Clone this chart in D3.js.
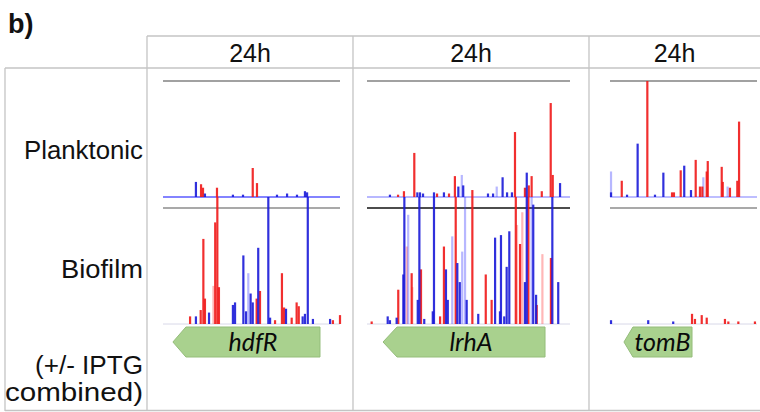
<!DOCTYPE html>
<html><head><meta charset="utf-8">
<script src="https://cdn.jsdelivr.net/npm/d3@7"></script>
<style>html,body{margin:0;padding:0;background:#fff;}svg{display:block;}</style>
</head><body>
<svg id="c" width="760" height="412"></svg>
<script>
// ---------- DATA ----------
const panelLabel = "b)";
const genes = ["hdfR", "lrhA", "tomB"];
const timeLabels = ["24h", "24h", "24h"];
const rowLabels = ["Planktonic", "Biofilm"];
const footLabel = ["(+/- IPTG", "combined)"];
// gene extents in track coordinates (0-100), arrow points left (reverse strand)
const geneStart = [5.6, 7.9, 9.5];
const geneEnd = [88.7, 87.7, 55.8];

// [position (0-100 along track), read depth (% of track max)]
const hdfR_plank_red = [[21.5,11],[22.6,8],[30.5,8],[50.7,25],[53.1,12]];
const hdfR_plank_blue = [[18.6,13],[23.7,3],[39.5,2],[45.2,2],[64.4,2],[70.1,3],[75.7,2],[80.2,5],[81.4,4]];
const hdfR_plank_redLight = [];
const hdfR_plank_blueLight = [];
const hdfR_bio_red = [[15.3,6],[21.3,11],[22.8,67],[23.7,20],[29.5,80],[30.7,100],[31.6,29],[52.9,20],[54.8,26],[63.3,3],[67.2,40],[68.4,13],[72.7,5],[75.5,17],[76.7,14],[96,3],[100,7]];
const hdfR_bio_blue = [[18.6,6],[26,9],[39.5,15],[40.7,17],[45.4,54],[46.9,10],[49.5,24],[50.7,17],[53.8,60],[59.5,100],[60.5,5],[69.5,12],[78.9,6],[80.2,8],[81.8,100],[84.7,4],[94.4,4]];
const hdfR_bio_redLight = [[28.5,30]];
const hdfR_bio_blueLight = [[48.2,40]];

const lrhA_plank_red = [[15.3,2],[18.2,5],[23.3,38],[34.5,3],[40.4,3],[43.3,18],[51.9,6],[72.9,56],[77.8,8],[79.7,10],[81.1,18],[86.1,5],[90.5,81],[91.5,19]];
const lrhA_plank_blue = [[11.3,2],[24.8,4],[26.1,4],[27.6,3],[33,4],[37.9,4],[45,9],[47.4,10],[59.6,3],[62.1,3],[66.8,17],[69,4],[71.4,4],[78.7,21],[95.1,12]];
const lrhA_plank_redLight = [];
const lrhA_plank_blueLight = [[46.7,19],[63.9,9]];
const lrhA_bio_red = [[2.3,2],[15.4,27],[22,40],[26.6,43],[36,6],[37.9,61],[43.7,100],[51.9,100],[58.5,39],[61.4,19],[73.3,100],[75.4,63],[79.5,100],[83.6,15],[90.6,52]];
const lrhA_bio_blue = [[10.2,6],[11.3,3],[14.6,5],[17.9,39],[18.4,100],[25,19],[25.8,100],[28.2,4],[32.4,10],[33,100],[38.9,43],[39.8,19],[44.5,48],[45.7,33],[49.1,19],[54.8,8],[63.1,68],[65.5,10],[66,70],[67.6,6],[68.8,45],[70.1,73],[77.8,33],[78.7,100],[81.9,94],[83.3,23],[91.3,100],[94.2,33]];
const lrhA_bio_redLight = [[19.6,61],[22.3,29],[73.9,78],[76.5,88],[86.4,55]];
const lrhA_bio_blueLight = [[20.3,86],[42,69],[46.9,57],[48.3,100],[81.1,100]];

const tomB_plank_red = [[8,14],[25.4,100],[42.2,4],[43.5,4],[48.1,23],[58.3,32],[61.2,9],[62.8,9],[65.8,22],[66.5,31],[76,26],[76.7,13],[81.6,8],[86.6,14],[87.8,65]];
const tomB_plank_blue = [[0.7,4],[11.6,2],[18.8,46],[30.6,2],[36.3,21],[50.5,27],[55.1,6]];
const tomB_plank_redLight = [];
const tomB_plank_blueLight = [[0.7,22],[63.5,17],[80,9]];
const tomB_bio_red = [[55.8,8],[57.8,4],[62.4,7],[65.8,5],[78.2,4],[80.5,2],[87.3,2],[98.6,2]];
const tomB_bio_blue = [[0.7,3],[26,3],[43,2]];
const tomB_bio_redLight = [];
const tomB_bio_blueLight = [];

const tracks = {
  hdfR: {plank: [hdfR_plank_redLight, hdfR_plank_blueLight, hdfR_plank_red, hdfR_plank_blue],
         bio:   [hdfR_bio_redLight, hdfR_bio_blueLight, hdfR_bio_red, hdfR_bio_blue]},
  lrhA: {plank: [lrhA_plank_redLight, lrhA_plank_blueLight, lrhA_plank_red, lrhA_plank_blue],
         bio:   [lrhA_bio_redLight, lrhA_bio_blueLight, lrhA_bio_red, lrhA_bio_blue]},
  tomB: {plank: [tomB_plank_redLight, tomB_plank_blueLight, tomB_plank_red, tomB_plank_blue],
         bio:   [tomB_bio_redLight, tomB_bio_blueLight, tomB_bio_red, tomB_bio_blue]}
};

// ---------- LAYOUT ----------
const svg = d3.select("#c");
const W = 760, H = 412;
const colX = [147, 353, 589, 760];
const trackX = [[163, 340], [367, 570], [610, 757]];
const arrowHead = [13, 14, 9];
const plankBase = 197, plankTop = 81, bioBase = 324, bioTop = 208, bioClip = 197;
const font = "'Liberation Sans', Arial, sans-serif";
const gridC = "#c4c4c4";
const seriesStyle = [
  {fill: "#ff3030", op: 0.35},
  {fill: "#3030ff", op: 0.35},
  {fill: "#f01818", op: 0.9},
  {fill: "#1a1ad8", op: 0.9}
];

// grid
const grid = svg.append("g").attr("stroke", gridC).attr("stroke-width", 1.3);
grid.append("line").attr("x1", colX[0]).attr("x2", W).attr("y1", 36).attr("y2", 36);
grid.append("line").attr("x1", 5).attr("x2", W).attr("y1", 68).attr("y2", 68);
grid.append("line").attr("x1", 5).attr("x2", W).attr("y1", 410.5).attr("y2", 410.5);
grid.append("line").attr("x1", 5).attr("x2", 5).attr("y1", 68).attr("y2", 411);
colX.slice(0, 3).forEach(x => grid.append("line").attr("x1", x).attr("x2", x).attr("y1", 36).attr("y2", 411));

// texts
svg.append("text").attr("x", 8).attr("y", 33).attr("font-family", font).attr("font-weight", "bold")
  .attr("font-size", 27).attr("fill", "#111").text(panelLabel);
timeLabels.forEach((t, i) => {
  svg.append("text").attr("x", (colX[i] + colX[i + 1]) / 2).attr("y", 62).attr("text-anchor", "middle")
    .attr("font-family", font).attr("font-size", 25).attr("fill", "#111").text(t);
});
const rowY = [159, 278];
const rowW = [119, 82];
rowLabels.forEach((t, i) => {
  svg.append("text").attr("x", 143).attr("y", rowY[i]).attr("text-anchor", "end")
    .attr("font-family", font).attr("font-size", 25).attr("fill", "#111")
    .attr("textLength", rowW[i]).attr("lengthAdjust", "spacingAndGlyphs").text(t);
});
const footW = [108, 138];
[374, 401].forEach((y, i) => {
  svg.append("text").attr("x", 143).attr("y", y).attr("text-anchor", "end")
    .attr("font-family", font).attr("font-size", 25).attr("fill", "#111")
    .attr("textLength", footW[i]).attr("lengthAdjust", "spacingAndGlyphs").text(footLabel[i]);
});

// panels
const yPlank = d3.scaleLinear().domain([0, 100]).range([plankBase, plankTop]).clamp(true);
const yBio = d3.scaleLinear().domain([0, 100]).range([bioBase, bioClip]).clamp(true);
const baseCol = ["#5a5aff", "#a0a0ff", "#a8a8ff"];

genes.forEach((g, i) => {
  const x = d3.scaleLinear().domain([0, 100]).range(trackX[i]);
  const gp = svg.append("g");
  gp.append("line").attr("x1", x(0)).attr("x2", x(100)).attr("y1", plankTop).attr("y2", plankTop)
    .attr("stroke", "#444").attr("stroke-width", 1.2);
  gp.append("line").attr("x1", x(0)).attr("x2", x(100)).attr("y1", bioTop).attr("y2", bioTop)
    .attr("stroke", i === 1 ? "#111" : "#555").attr("stroke-width", i === 1 ? 1.5 : 1.2);
  gp.append("line").attr("x1", x(0)).attr("x2", x(100)).attr("y1", plankBase).attr("y2", plankBase)
    .attr("stroke", baseCol[i]).attr("stroke-width", 1.4);
  gp.append("line").attr("x1", x(0)).attr("x2", x(100)).attr("y1", bioBase).attr("y2", bioBase)
    .attr("stroke", "#d8d8e8").attr("stroke-width", 1);

  const draw = (sets, y) => {
    sets.forEach((data, k) => {
      const st = seriesStyle[k];
      gp.append("g").selectAll("rect").data(data).join("rect")
        .attr("x", d => x(d[0]) - 1.1).attr("width", 2.2)
        .attr("y", d => y(d[1])).attr("height", d => y(0) - y(d[1]))
        .attr("fill", st.fill).attr("fill-opacity", st.op);
    });
  };
  draw(tracks[g].bio, yBio);
  draw(tracks[g].plank, yPlank);

  const xs = x(geneStart[i]), xe = x(geneEnd[i]), h = arrowHead[i];
  const y0 = 327, y1 = 357, ym = (y0 + y1) / 2;
  gp.append("path")
    .attr("d", `M${xs},${ym} L${xs + h},${y0} L${xe},${y0} L${xe},${y1} L${xs + h},${y1} Z`)
    .attr("fill", "#a9d18e").attr("stroke", "#95bd7b").attr("stroke-width", 1);
  gp.append("text").attr("x", (xs + h + xe) / 2).attr("y", ym + 8.5).attr("text-anchor", "middle")
    .attr("font-family", "Lato, 'Noto Sans', sans-serif").attr("font-style", "italic")
    .attr("font-size", 25).attr("fill", "#0a0a0a").text(g);
});
</script>
</body></html>
